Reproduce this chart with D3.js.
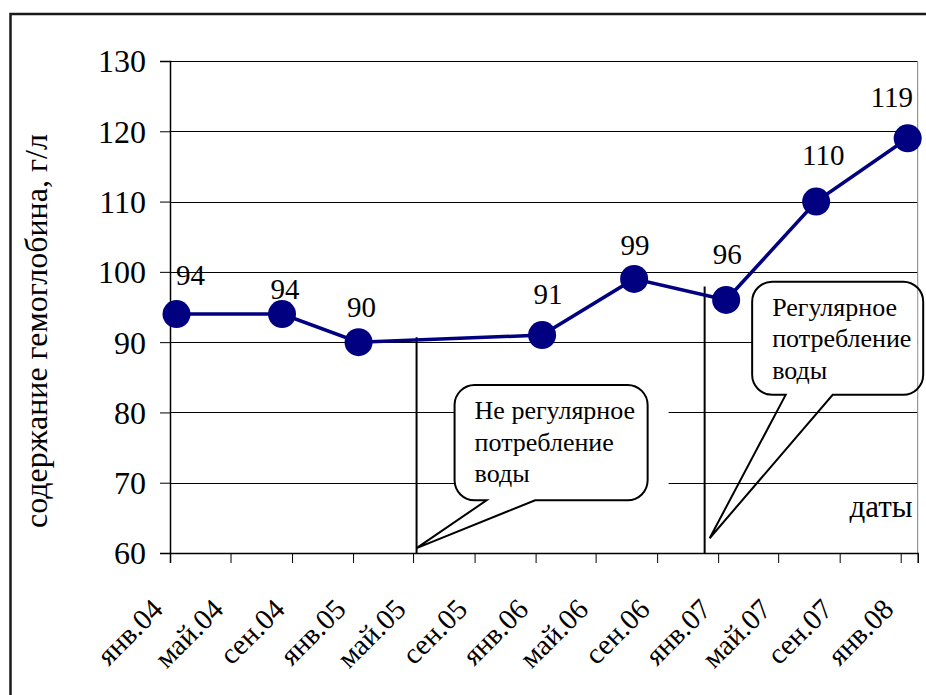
<!DOCTYPE html>
<meta charset="utf-8">
<html>
<head>
<script src="https://d3js.org/d3.v7.min.js"></script>
<style>
  body { margin: 0; background: #fff; }
  svg text { font-family: "Liberation Serif", "Times New Roman", Times, Tinos, "DejaVu Serif", "Noto Serif", serif; fill: #000; }
</style>
</head>
<body>
<script>

// data
const dates = ['2004-01-14', '2004-08-12', '2005-01-12', '2006-01-14',
               '2006-07-17', '2007-01-17', '2007-07-16', '2008-01-15'];
const hemoglobin = [94, 94, 90, 91, 99, 96, 110, 119];
const month_names = ['янв', 'фев', 'мар', 'апр', 'май', 'июн',
                     'июл', 'авг', 'сен', 'окт', 'ноя', 'дек'];
const y_ticks = [60, 70, 80, 90, 100, 110, 120, 130];
const y_title = 'содержание гемоглобина, г/л',
      x_title = 'даты';
const note_lines = [['Не регулярное', 'потребление', 'воды'],
                    ['Регулярное', 'потребление', 'воды']];

// layout (data-space placement of the hand drawn annotations)
const label_nudge = [[14, -29], [3, -15], [3, -25], [6, -31], [1, -24], [1, -36], [7, -37], [-16, -31]];
const note_layout = [
  { line: ['2005-05-08', 90.7], tip: ['2005-05-08', 60.7], box: ['2005-07-23', '2006-08-13', 83.9, 67.5],
    base: ['2005-09-25', '2005-12-31'], cover: 214 },
  { line: ['2006-12-05', 97.9], tip: ['2006-12-15', 62.1], box: ['2007-03-10', '2008-02-15', 98.6, 82.5],
    base: ['2007-05-16', '2007-08-18'], cover: 165 }
];

const width = 926, height = 695,
      plot = { left: 170, right: 917.7, top: 61, bottom: 553 },
      serif = '"Liberation Serif", "Times New Roman", Times, Tinos, "DejaVu Serif", serif';

const parse = s => new Date(s + 'T00:00:00Z');
const data = dates.map((d, i) => ({ date: parse(d), value: hemoglobin[i], nudge: label_nudge[i] }));

const x = d3.scaleUtc()
  .domain([parse('2004-01-01'), parse('2008-02-04')])
  .range([plot.left, plot.right]);
const y = d3.scaleLinear()
  .domain([60, 130])
  .range([plot.bottom, plot.top]);

const svg = d3.select('body').append('svg')
  .attr('width', width)
  .attr('height', height)
  .style('font-family', serif);

// outer chart frame (runs off the right and bottom of the picture)
svg.append('rect')
  .attr('x', 10.5).attr('y', 14)
  .attr('width', 1000).attr('height', 800)
  .attr('fill', 'none')
  .attr('stroke', '#1a1a1a')
  .attr('stroke-width', 2.5);

// gridlines
svg.append('g')
  .selectAll('line')
  .data(y_ticks)
  .join('line')
    .attr('x1', plot.left).attr('x2', plot.right)
    .attr('y1', d => Math.round(y(d)) + 0.5).attr('y2', d => Math.round(y(d)) + 0.5)
    .attr('stroke', '#000')
    .attr('stroke-width', 1);

// plot area right border
svg.append('line')
  .attr('x1', plot.right).attr('x2', plot.right)
  .attr('y1', plot.top).attr('y2', plot.bottom)
  .attr('stroke', '#808080');

// y axis
const y_axis = svg.append('g')
  .attr('transform', `translate(${plot.left},0)`)
  .call(d3.axisLeft(y).tickValues(y_ticks).tickSize(10).tickPadding(14))
  .attr('font-family', null);
y_axis.select('.domain').attr('stroke-width', 1.5);
y_axis.selectAll('.tick text')
  .attr('font-size', 32)
  .attr('dy', '0.34em');

// x axis
const x_ticks = d3.utcMonth.range(parse('2004-01-01'), parse('2008-01-02'), 4);
const x_axis = svg.append('g')
  .attr('transform', `translate(0,${plot.bottom})`)
  .call(d3.axisBottom(x).tickValues(x_ticks).tickSize(10)
    .tickFormat(d => month_names[d.getUTCMonth()] + '.' + String(d.getUTCFullYear()).slice(2)))
  .attr('font-family', null);
x_axis.select('.domain').attr('stroke-width', 1.5);
x_axis.selectAll('.tick text')
  .attr('font-size', 29)
  .attr('text-anchor', 'end')
  .attr('y', 0).attr('dy', 0)
  .attr('transform', 'translate(-6,58) rotate(-45)');

// axis titles
svg.append('text')
  .attr('transform', `translate(47,${(plot.top + plot.bottom) / 2 + 24}) rotate(-90)`)
  .attr('text-anchor', 'middle')
  .attr('font-size', 32)
  .text(y_title);

svg.append('text')
  .attr('x', plot.right - 5).attr('y', 517)
  .attr('text-anchor', 'end')
  .attr('font-size', 31)
  .text(x_title);

// annotations
const notes = svg.append('g').attr('class', 'notes');
note_layout.forEach((n, i) => {
  const x0 = x(parse(n.box[0])), x1 = x(parse(n.box[1])),
        y0 = y(n.box[2]), y1 = y(n.box[3]),
        ba = x(parse(n.base[0])), bb = x(parse(n.base[1])),
        tx = x(parse(n.tip[0])), ty = y(n.tip[1]),
        r = 20;

  notes.append('line')
    .attr('x1', x(parse(n.line[0]))).attr('x2', x(parse(n.line[0])))
    .attr('y1', y(n.line[1])).attr('y2', plot.bottom)
    .attr('stroke', '#000')
    .attr('stroke-width', 2);

  notes.append('rect')
    .attr('x', x0).attr('y', y0)
    .attr('width', n.cover).attr('height', y1 - y0)
    .attr('fill', '#fff');

  const path = d3.path();
  path.moveTo(x0 + r, y0);
  path.lineTo(x1 - r, y0);
  path.arcTo(x1, y0, x1, y0 + r, r);
  path.lineTo(x1, y1 - r);
  path.arcTo(x1, y1, x1 - r, y1, r);
  path.lineTo(bb, y1);
  path.lineTo(tx, ty);
  path.lineTo(ba, y1);
  path.lineTo(x0 + r, y1);
  path.arcTo(x0, y1, x0, y1 - r, r);
  path.lineTo(x0, y0 + r);
  path.arcTo(x0, y0, x0 + r, y0, r);
  path.closePath();

  notes.append('path')
    .attr('d', path.toString())
    .attr('fill', 'none')
    .attr('stroke', '#000')
    .attr('stroke-width', 2);

  notes.append('g')
    .selectAll('text')
    .data(note_lines[i])
    .join('text')
      .attr('x', x0 + 20)
      .attr('y', (d, j) => y0 + 34 + j * 31.5)
      .attr('font-size', 26)
      .text(d => d);
});

// series
svg.append('path')
  .datum(data)
  .attr('fill', 'none')
  .attr('stroke', '#000080')
  .attr('stroke-width', 3.5)
  .attr('d', d3.line().x(d => x(d.date)).y(d => y(d.value)));

svg.append('g')
  .selectAll('circle')
  .data(data)
  .join('circle')
    .attr('cx', d => x(d.date))
    .attr('cy', d => y(d.value))
    .attr('r', 14)
    .attr('fill', '#000080');

svg.append('g')
  .selectAll('text')
  .data(data)
  .join('text')
    .attr('x', d => x(d.date) + d.nudge[0])
    .attr('y', d => y(d.value) + d.nudge[1])
    .attr('text-anchor', 'middle')
    .attr('font-size', 29)
    .text(d => d.value);

</script>
</body>
</html>
